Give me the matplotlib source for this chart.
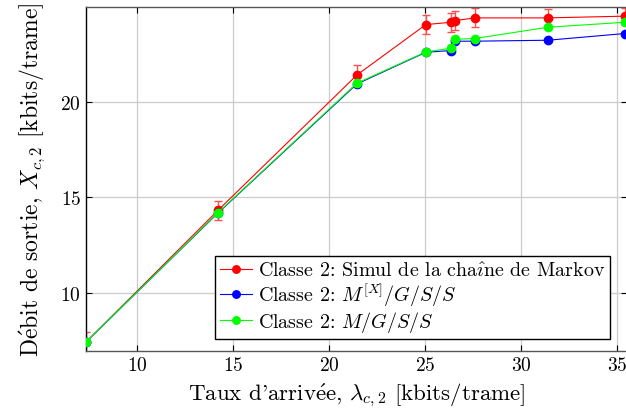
import matplotlib
matplotlib.use('Agg')
import matplotlib.pyplot as plt

# data
lam = [7.35, 14.22, 21.46, 25.05, 26.35, 26.58, 27.6, 31.4, 35.4]
x_sim = [7.43, 14.32, 21.41, 24.05, 24.17, 24.26, 24.4, 24.4, 24.49]
err_sim = [0.5, 0.48, 0.5, 0.5, 0.5, 0.49, 0.5, 0.47, 0.45]
x_mxg = [7.43, 14.18, 20.94, 22.6, 22.69, 23.18, 23.18, 23.23, 23.58]
x_mg = [7.43, 14.2, 20.98, 22.62, 22.81, 23.28, 23.32, 23.91, 24.17]

plt.rcParams['font.family'] = 'serif'
plt.rcParams['font.serif'] = ['cmr10']
plt.rcParams['mathtext.fontset'] = 'cm'
plt.rcParams['axes.formatter.use_mathtext'] = True

fig = plt.figure(figsize=(6.26, 4.14), dpi=100)
ax = fig.add_axes([86/626, 62/414, 540.5/626, 344/414])

ax.errorbar(lam, x_sim, yerr=err_sim, fmt='none', ecolor='#ff5050', elinewidth=1.0,
            capsize=3, capthick=1.0, zorder=2)
ax.plot(lam, x_sim, '-o', color='#ff0000', lw=0.8, ms=6,
        label='Classe 2: Simul de la cha$\\mathrm{\\hat{\\imath}}$ne de Markov', zorder=3)
ax.plot(lam, x_mxg, '-o', color='#0000ff', lw=0.8, ms=6,
        label='Classe 2: $M^{[X]}/G/S/S$', zorder=3)
ax.plot(lam, x_mg, '-o', color='#00ff00', lw=0.8, ms=6,
        label='Classe 2: $M/G/S/S$', zorder=3)

ax.set_xlim(7.35, 35.5)
ax.set_ylim(6.96, 24.97)
ax.set_xticks([10, 15, 20, 25, 30, 35])
ax.set_yticks([10, 15, 20])
ax.grid(True, color='#cccccc', lw=0.9)
ax.set_axisbelow(True)
ax.tick_params(direction='in', length=4, labelsize=14, top=True, right=True)
for s in ax.spines.values():
    s.set_linewidth(1.0)
ax.spines['top'].set_color('#555555')
ax.spines['bottom'].set_color('#555555')

ax.set_xlabel("Taux d'arriv$\\mathrm{\\acute{e}}$e, $\\lambda_{c,2}$ [kbits/trame]",
              fontsize=16.5, labelpad=5)
ax.set_ylabel('D$\\mathrm{\\acute{e}}$bit de sortie, $X_{c,2}$ [kbits/trame]',
              fontsize=17, labelpad=10)

leg = ax.legend(loc='lower right', bbox_to_anchor=(0.9695, 0.035), borderaxespad=0,
                fontsize=14.4, fancybox=False, framealpha=1, edgecolor='black',
                handlelength=1.6, handletextpad=0.3, borderpad=0.25, labelspacing=0.05,
                markerscale=0.9)
leg.get_frame().set_linewidth(1.0)

plt.savefig('out.png', dpi=100)
